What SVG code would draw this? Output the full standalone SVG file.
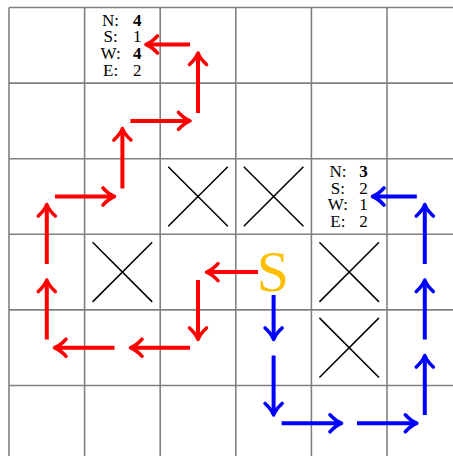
<svg xmlns="http://www.w3.org/2000/svg" width="453" height="456" viewBox="0 0 453 456">
<style>
.grid line{stroke:#808080;stroke-width:1.6}
.x line{stroke:#000;stroke-width:1.5}
.lbl{font-family:"Liberation Serif","DejaVu Serif",serif;font-size:17px;fill:#000;text-anchor:middle}
.b{font-weight:bold}
.red{stroke:#ff0000;stroke-width:4;fill:none;marker-end:url(#ar)}
.blue{stroke:#0000ff;stroke-width:4;fill:none;marker-end:url(#ab)}
</style>
<defs>
<marker id="ar" markerUnits="userSpaceOnUse" viewBox="-14 -12 17 24" markerWidth="17" markerHeight="24" refX="0" refY="0" orient="auto" overflow="visible">
<path d="M-10,-8.5 Q-4,-2 1.5,0 Q-4,2 -10,8.5" fill="none" stroke="#ff0000" stroke-width="3.6" stroke-linecap="round" stroke-linejoin="round"/>
</marker>
<marker id="ab" markerUnits="userSpaceOnUse" viewBox="-14 -12 17 24" markerWidth="17" markerHeight="24" refX="0" refY="0" orient="auto" overflow="visible">
<path d="M-10,-8.5 Q-4,-2 1.5,0 Q-4,2 -10,8.5" fill="none" stroke="#0000ff" stroke-width="3.6" stroke-linecap="round" stroke-linejoin="round"/>
</marker>
</defs>
<rect width="453" height="456" fill="#fff"/>
<g id="grid" class="grid">
<line x1="9" y1="7.5" x2="9" y2="456"/>
<line x1="84.6" y1="7.5" x2="84.6" y2="456"/>
<line x1="160.2" y1="7.5" x2="160.2" y2="456"/>
<line x1="235.8" y1="7.5" x2="235.8" y2="456"/>
<line x1="311.4" y1="7.5" x2="311.4" y2="456"/>
<line x1="387" y1="7.5" x2="387" y2="456"/>
<line x1="9" y1="7.5" x2="453" y2="7.5"/>
<line x1="9" y1="83.1" x2="453" y2="83.1"/>
<line x1="9" y1="158.7" x2="453" y2="158.7"/>
<line x1="9" y1="234.3" x2="453" y2="234.3"/>
<line x1="9" y1="309.9" x2="453" y2="309.9"/>
<line x1="9" y1="385.5" x2="453" y2="385.5"/>
</g>
<g id="block-c2r2" class="x"><line x1="168.2" y1="166.7" x2="227.8" y2="226.3"/><line x1="227.8" y1="166.7" x2="168.2" y2="226.3"/></g>
<g id="block-c3r2" class="x"><line x1="243.8" y1="166.7" x2="303.4" y2="226.3"/><line x1="303.4" y1="166.7" x2="243.8" y2="226.3"/></g>
<g id="block-c1r3" class="x"><line x1="92.6" y1="242.3" x2="152.2" y2="301.9"/><line x1="152.2" y1="242.3" x2="92.6" y2="301.9"/></g>
<g id="block-c4r3" class="x"><line x1="319.4" y1="242.3" x2="379" y2="301.9"/><line x1="379" y1="242.3" x2="319.4" y2="301.9"/></g>
<g id="block-c4r4" class="x"><line x1="319.4" y1="317.9" x2="379" y2="377.5"/><line x1="379" y1="317.9" x2="319.4" y2="377.5"/></g>
<g id="info-top">
<text class="lbl" x="110.6" y="25.5">N:</text><text class="lbl b" x="137.2" y="25.5">4</text>
<text class="lbl" x="110.6" y="42.3">S:</text><text class="lbl" x="137.2" y="42.3">1</text>
<text class="lbl" x="110.6" y="59.1">W:</text><text class="lbl b" x="137.2" y="59.1">4</text>
<text class="lbl" x="110.6" y="75.9">E:</text><text class="lbl" x="137.2" y="75.9">2</text>
</g>
<g id="info-right">
<text class="lbl" x="337.9" y="176.7">N:</text><text class="lbl b" x="363.6" y="176.7">3</text>
<text class="lbl" x="337.9" y="193.5">S:</text><text class="lbl" x="363.6" y="193.5">2</text>
<text class="lbl" x="337.9" y="210.3">W:</text><text class="lbl" x="363.6" y="210.3">1</text>
<text class="lbl" x="337.9" y="227.1">E:</text><text class="lbl" x="363.6" y="227.1">2</text>
</g>
<g id="start">
<text x="273" y="291" font-family="Liberation Serif,DejaVu Serif,serif" font-size="58" fill="#ffbf00" text-anchor="middle">S</text>
</g>
<g id="connectors">
<line class="red" x1="258" y1="272.1" x2="208" y2="272.1"/>
<line class="red" x1="198" y1="280" x2="198" y2="338"/>
<line class="red" x1="190" y1="347.7" x2="132" y2="347.7"/>
<line class="red" x1="114.5" y1="347.7" x2="56" y2="347.7"/>
<line class="red" x1="46.8" y1="339.5" x2="46.8" y2="281.5"/>
<line class="red" x1="46.8" y1="264" x2="46.8" y2="206"/>
<line class="red" x1="55" y1="196.5" x2="113" y2="196.5"/>
<line class="red" x1="122.4" y1="188.5" x2="122.4" y2="130"/>
<line class="red" x1="130.4" y1="120.9" x2="188.5" y2="120.9"/>
<line class="red" x1="198" y1="113" x2="198" y2="54.5"/>
<line class="red" x1="190" y1="44.5" x2="147.5" y2="44.5"/>
<line class="blue" x1="273.6" y1="295" x2="273.6" y2="338"/>
<line class="blue" x1="273.6" y1="355.5" x2="273.6" y2="413.5"/>
<line class="blue" x1="281.6" y1="423.3" x2="340" y2="423.3"/>
<line class="blue" x1="357" y1="423.3" x2="415.3" y2="423.3"/>
<line class="blue" x1="424.8" y1="415" x2="424.8" y2="357"/>
<line class="blue" x1="424.8" y1="339.5" x2="424.8" y2="281.5"/>
<line class="blue" x1="424.8" y1="264" x2="424.8" y2="206"/>
<line class="blue" x1="416.8" y1="196.5" x2="374" y2="196.5"/>
</g>
</svg>
